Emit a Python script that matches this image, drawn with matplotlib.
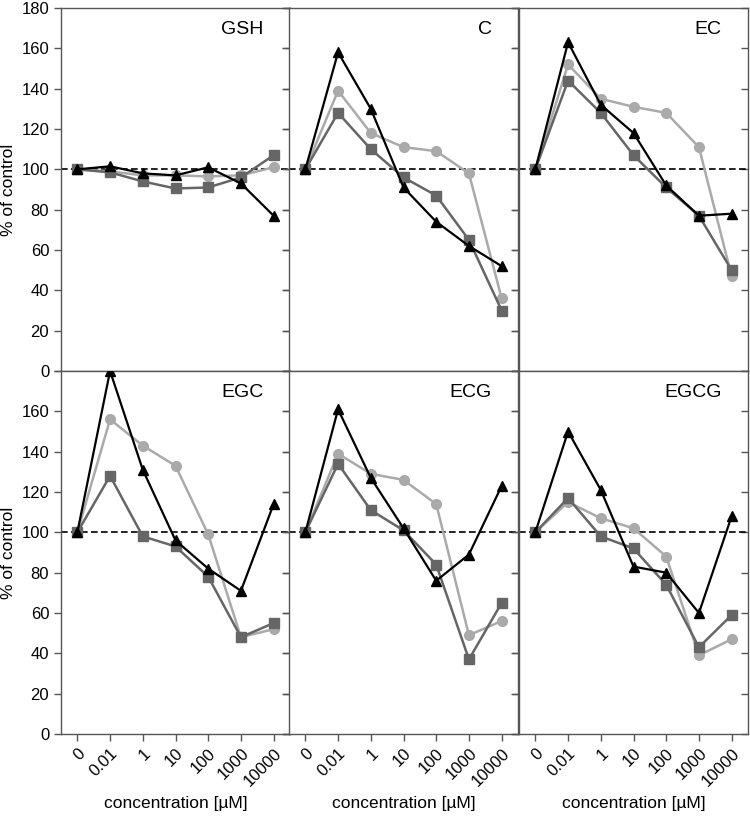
import numpy as np
import matplotlib
matplotlib.use("Agg")
import matplotlib.pyplot as plt

plt.rcParams['font.family'] = ['Liberation Sans', 'DejaVu Sans']

# --- data ---
conc_labels = ["0", "0.01", "1", "10", "100", "1000", "10000"]
panels = ["GSH", "C", "EC", "EGC", "ECG", "EGCG"]

# light gray circles
circle_vals = {
    "GSH":  [100, 99, 97, 97, 96.5, 97, 101],
    "C":    [100, 139, 118, 111, 109, 98, 36],
    "EC":   [100, 152, 135, 131, 128, 111, 47],
    "EGC":  [100, 156, 143, 133, 99, 48, 52],
    "ECG":  [100, 139, 129, 126, 114, 49, 56],
    "EGCG": [100, 115, 107, 102, 88, 39, 47],
}
# dark gray squares
square_vals = {
    "GSH":  [100, 98.5, 94, 90.5, 91, 96, 107],
    "C":    [100, 128, 110, 96, 87, 65, 30],
    "EC":   [100, 144, 128, 107, 91, 77, 50],
    "EGC":  [100, 128, 98, 93, 78, 48, 55],
    "ECG":  [100, 134, 111, 101, 84, 37, 65],
    "EGCG": [100, 117, 98, 92, 74, 43, 59],
}
# black triangles
triangle_vals = {
    "GSH":  [100, 101.5, 98, 97, 101, 93, 77],
    "C":    [100, 158, 130, 91, 74, 62, 52],
    "EC":   [100, 163, 132, 118, 92, 77, 78],
    "EGC":  [100, 180, 131, 96, 82, 71, 114],
    "ECG":  [100, 161, 127, 102, 76, 89, 123],
    "EGCG": [100, 150, 121, 83, 80, 60, 108],
}

# --- layout ---
W, H = 750, 816
fig = plt.figure(figsize=(W / 100, H / 100), dpi=100)

col_left = [61, 289, 519]
col_width = 229
row_top = [8, 371]
row_height = 363

spine_col = "#555555"
x = np.arange(len(conc_labels))

for i, name in enumerate(panels):
    r, c = divmod(i, 3)
    left = col_left[c] / W
    bottom = (H - row_top[r] - row_height) / H
    ax = fig.add_axes([left, bottom, col_width / W, row_height / H])

    ax.axhline(100, color="black", lw=1.2, ls=(0, (4, 2)), zorder=1)

    ax.plot(x, circle_vals[name], color="#aaaaaa", lw=1.8, marker="o",
            ms=7, mec="#aaaaaa", zorder=2)
    ax.plot(x, square_vals[name], color="#666666", lw=1.8, marker="s",
            ms=7.5, mec="#666666", zorder=3)
    ax.plot(x, triangle_vals[name], color="black", lw=1.6, marker="^",
            ms=7, zorder=4)

    ax.set_xlim(-0.5, 6.5)
    ax.set_ylim(0, 180)
    ax.set_yticks(np.arange(0, 181, 20))
    ax.set_xticks(x)

    for sp in ax.spines.values():
        sp.set_color(spine_col)
        sp.set_linewidth(1.0)

    ax.tick_params(axis="both", colors=spine_col, labelcolor="black",
                   direction="out", length=5, width=1.0, labelsize=12)

    # inward ticks on the right edge
    sec = ax.secondary_yaxis("right")
    sec.set_yticks(np.arange(0, 181, 20))
    sec.tick_params(direction="in", length=5, width=1.0, colors=spine_col,
                    labelright=False)
    sec.spines["right"].set_visible(False)

    if c == 0:
        ax.set_ylabel("% of control", fontsize=12.5, labelpad=4)
        if r == 1:
            ax.set_yticklabels([str(v) for v in range(0, 161, 20)] + [""])
    else:
        ax.tick_params(axis="y", labelleft=False)

    if r == 1:
        ax.set_xticklabels(conc_labels, rotation=45, ha="right",
                           rotation_mode="anchor")
        ax.set_xlabel("concentration [µM]", fontsize=12.5)
        ax.xaxis.set_label_coords(0.5, -0.17)
    else:
        ax.tick_params(axis="x", labelbottom=False)

    ax.text(0.885, 0.94, name, transform=ax.transAxes, ha="right", va="center",
            fontsize=14)

fig.savefig("out.png", dpi=100)
